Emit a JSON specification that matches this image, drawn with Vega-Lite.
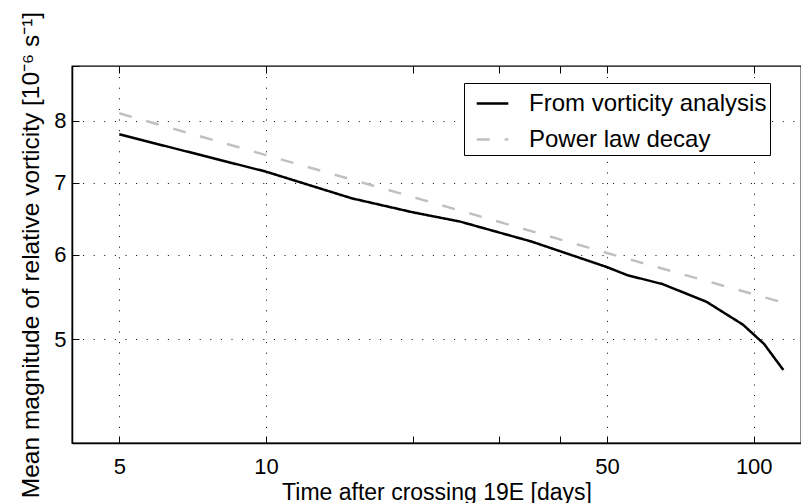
{
  "$schema": "https://vega.github.io/schema/vega-lite/v6.json",
  "width": 729,
  "height": 377,
  "autosize": {"type": "none"},
  "padding": {"left": 72, "top": 66, "right": 0, "bottom": 60},
  "background": "white",
  "config": {
    "font": "Liberation Sans",
    "view": {"stroke": "#000000", "strokeWidth": 1.3},
    "axis": {
      "domainColor": "#000000",
      "domainWidth": 1.5,
      "tickColor": "#000000",
      "tickWidth": 1,
      "labelColor": "#000000",
      "labelFontSize": 22,
      "labelFont": "Liberation Sans",
      "titleFont": "Liberation Sans",
      "titleFontSize": 23,
      "titleFontWeight": "normal",
      "titleColor": "#000000",
      "gridColor": "#000000",
      "gridWidth": 1,
      "gridDash": [1, 9.6]
    }
  },
  "data": {
    "values": [
      {"days": 5, "vorticity": 7.77, "series": "From vorticity analysis"},
      {"days": 10, "vorticity": 7.17, "series": "From vorticity analysis"},
      {"days": 15, "vorticity": 6.77, "series": "From vorticity analysis"},
      {"days": 20, "vorticity": 6.57, "series": "From vorticity analysis"},
      {"days": 25, "vorticity": 6.44, "series": "From vorticity analysis"},
      {"days": 35, "vorticity": 6.17, "series": "From vorticity analysis"},
      {"days": 50, "vorticity": 5.84, "series": "From vorticity analysis"},
      {"days": 55, "vorticity": 5.74, "series": "From vorticity analysis"},
      {"days": 65, "vorticity": 5.63, "series": "From vorticity analysis"},
      {"days": 80, "vorticity": 5.42, "series": "From vorticity analysis"},
      {"days": 95, "vorticity": 5.16, "series": "From vorticity analysis"},
      {"days": 105, "vorticity": 4.95, "series": "From vorticity analysis"},
      {"days": 115, "vorticity": 4.68, "series": "From vorticity analysis"},
      {"days": 5, "vorticity": 8.13, "series": "Power law decay"},
      {"days": 10, "vorticity": 7.43, "series": "Power law decay"},
      {"days": 20, "vorticity": 6.79, "series": "Power law decay"},
      {"days": 50, "vorticity": 6.02, "series": "Power law decay"},
      {"days": 115, "vorticity": 5.41, "series": "Power law decay"}
    ]
  },
  "layer": [
    {
      "mark": {"type": "line", "strokeWidth": 2.5, "clip": true},
      "encoding": {
        "x": {
          "field": "days",
          "type": "quantitative",
          "scale": {"type": "log", "domain": [4, 125], "nice": false},
          "axis": {
            "orient": "bottom",
            "values": [4, 5, 10, 20, 30, 40, 50, 100],
            "ticks": false,
            "labelExpr": "indexof([5,10,50,100], datum.value) >= 0 ? '' + datum.value : ''",
            "gridOpacity": {"condition": {"test": "indexof([5,10,50,100], datum.value) >= 0", "value": 1}, "value": 0},
            "labelPadding": 13,
            "title": "Time after crossing 19E [days]",
            "titleBaseline": "alphabetic",
            "titleY": 56
          }
        },
        "y": {
          "field": "vorticity",
          "type": "quantitative",
          "scale": {"type": "log", "domain": [4, 9], "nice": false},
          "axis": {
            "orient": "left",
            "values": [4, 5, 6, 7, 8, 9],
            "ticks": false,
            "labelExpr": "indexof([5,6,7,8], datum.value) >= 0 ? '' + datum.value : ''",
            "gridOpacity": {"condition": {"test": "indexof([5,6,7,8], datum.value) >= 0", "value": 1}, "value": 0},
            "labelPadding": 6,
            "title": "Mean magnitude of relative vorticity [10⁻⁶ s⁻¹]",
            "titleFontSize": 24.5,
            "titlePadding": 10
          }
        },
        "color": {
          "field": "series",
          "type": "nominal",
          "scale": {"domain": ["From vorticity analysis", "Power law decay"], "range": ["#000000", "#c0c0c0"]},
          "legend": {
            "title": null,
            "orient": "none",
            "legendX": 392,
            "legendY": 17,
            "strokeColor": "#000000",
            "fillColor": "#ffffff",
            "padding": 3,
            "symbolType": "stroke",
            "symbolSize": 1000,
            "symbolStrokeWidth": 2.5,
            "symbolOffset": 8,
            "labelFontSize": 24,
            "labelColor": "#000000",
            "labelOffset": 19,
            "rowPadding": 6,
            "labelLimit": 500
          }
        },
        "strokeDash": {
          "field": "series",
          "type": "nominal",
          "scale": {"domain": ["From vorticity analysis", "Power law decay"], "range": [[1, 0], [13, 15]]},
          "legend": {
            "title": null,
            "orient": "none",
            "legendX": 392,
            "legendY": 17,
            "strokeColor": "#000000",
            "fillColor": "#ffffff",
            "padding": 3,
            "symbolType": "stroke",
            "symbolSize": 1000,
            "symbolStrokeWidth": 2.5,
            "symbolOffset": 8,
            "labelFontSize": 24,
            "labelColor": "#000000",
            "labelOffset": 19,
            "rowPadding": 6,
            "labelLimit": 500
          }
        }
      }
    },
    {
      "mark": {"type": "line", "opacity": 0},
      "encoding": {
        "x": {
          "field": "days",
          "type": "quantitative",
          "axis": {
            "orient": "bottom",
            "offset": -7,
            "tickSize": 7,
            "values": [4, 5, 10, 20, 30, 40, 50, 100],
            "labels": false,
            "grid": false,
            "domain": false,
            "title": null
          }
        },
        "y": {
          "field": "vorticity",
          "type": "quantitative",
          "axis": {
            "orient": "left",
            "offset": -7,
            "tickSize": 7,
            "values": [4, 5, 6, 7, 8, 9],
            "labels": false,
            "grid": false,
            "domain": false,
            "title": null
          }
        }
      }
    },
    {
      "mark": {"type": "line", "opacity": 0},
      "encoding": {
        "x": {
          "field": "days",
          "type": "quantitative",
          "axis": {
            "orient": "top",
            "offset": -7,
            "tickSize": 7,
            "values": [4, 5, 10, 20, 30, 40, 50, 100],
            "labels": false,
            "grid": false,
            "domain": false,
            "title": null
          }
        },
        "y": {"field": "vorticity", "type": "quantitative", "axis": null}
      }
    }
  ],
  "resolve": {"axis": {"x": "independent", "y": "independent"}}
}
